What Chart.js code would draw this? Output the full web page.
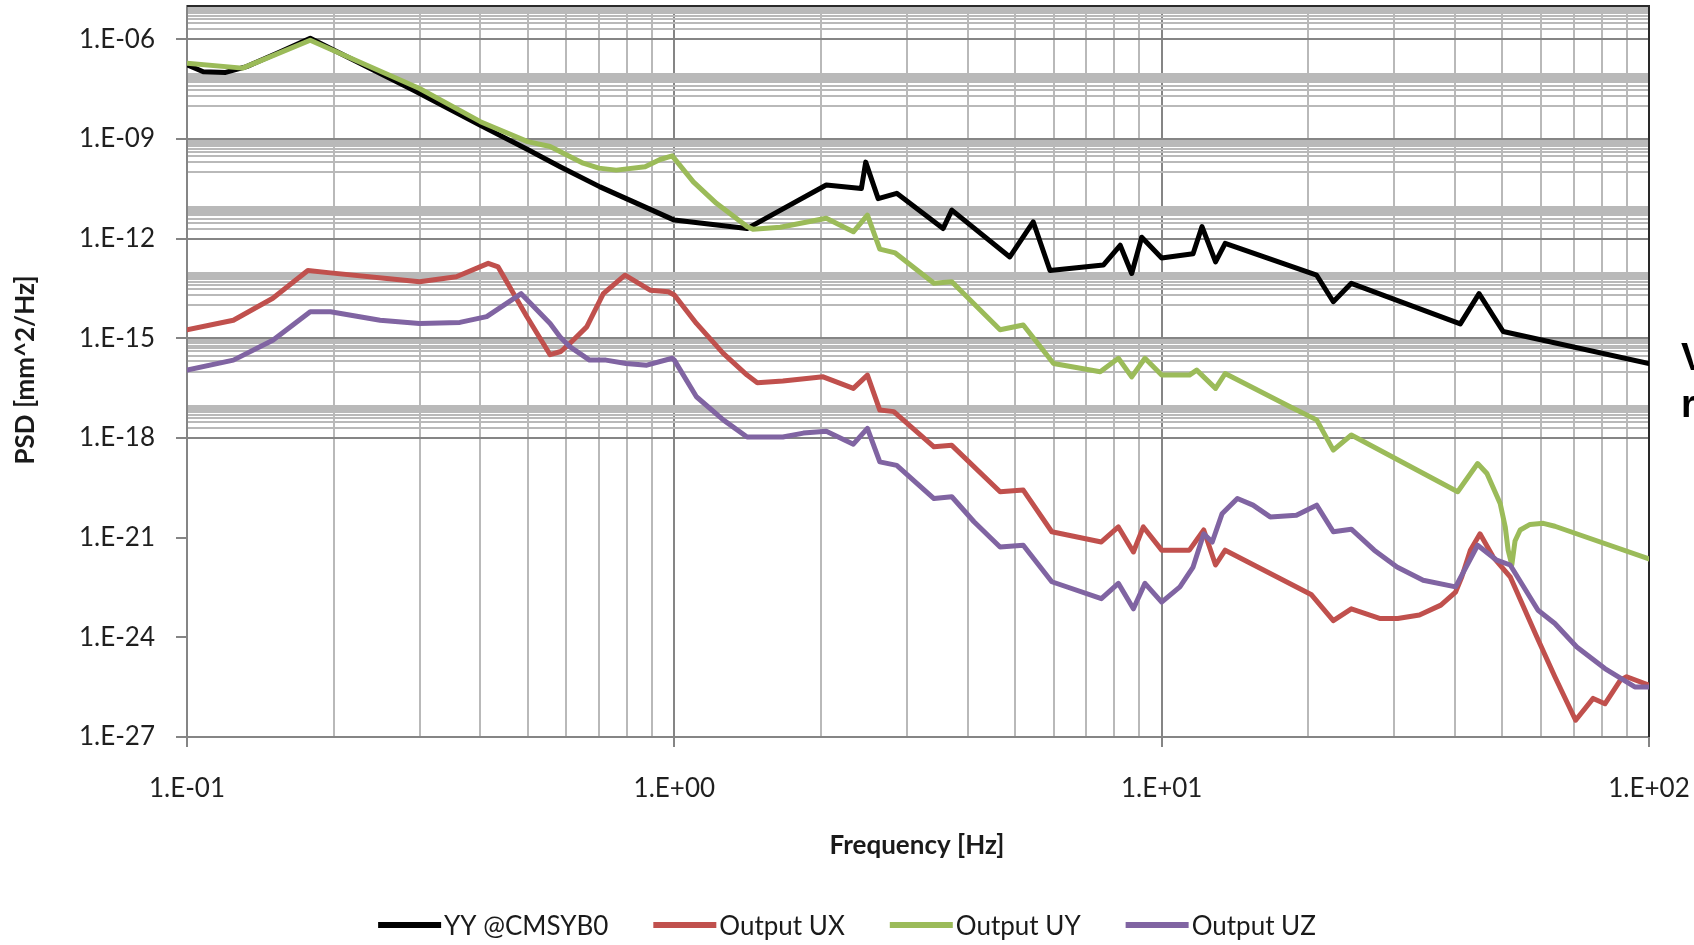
<!DOCTYPE html>
<html>
<head>
<meta charset="utf-8">
<title>PSD</title>
<script src="https://cdn.jsdelivr.net/npm/chart.js@4.4.1/dist/chart.umd.min.js"></script>
<style>
  html, body { margin: 0; padding: 0; background: #ffffff; }
  #wrap { width: 1694px; height: 945px; }
</style>
</head>
<body>
<div id="wrap"><canvas id="c" width="1694" height="945"></canvas></div>
<script>
// ---- series data: frequency [Hz] and PSD [mm^2/Hz] ----
const seriesLabels = ['YY @CMSYB0', 'Output UX', 'Output UY', 'Output UZ'];
const seriesColors = ['#000000', '#C0504D', '#9BBB59', '#8064A2'];

const yyFreq = [0.1, 0.108, 0.12, 0.1325, 0.153, 0.179, 0.291, 0.399, 0.5, 0.583, 0.704,
  1.0, 1.41, 2.05, 2.42, 2.47, 2.62, 2.86, 3.56, 3.71, 4.88, 5.45, 5.9, 7.59, 8.22, 8.68,
  9.1, 10, 11.6, 12.1, 12.9, 13.5, 20.8, 22.5, 24.5, 41.0, 44.8, 50.2, 100];
const yyPsd = [1.7e-7, 1.05e-7, 1.0e-7, 1.5e-7, 3.8e-7, 1.07e-6, 2.95e-8, 2.6e-9, 4.8e-10, 1.45e-10, 3.6e-11,
  3.6e-12, 2.0e-12, 4.1e-11, 3.2e-11, 2.0e-10, 1.6e-11, 2.3e-11, 2.0e-12, 7.2e-12, 2.8e-13, 3.2e-12, 1.1e-13, 1.6e-13, 6.3e-13, 8.9e-14,
  1.1e-12, 2.6e-13, 3.5e-13, 2.3e-12, 2.0e-13, 7.2e-13, 7.9e-14, 1.26e-14, 4.5e-14, 2.7e-15, 2.2e-14, 1.6e-15, 1.74e-16];

const uxFreq = [0.1, 0.1245, 0.15, 0.177, 0.197, 0.257, 0.3, 0.357, 0.415, 0.435,
  0.498, 0.556, 0.585, 0.611, 0.661, 0.715, 0.792, 0.892, 0.972, 1.0,
  1.11, 1.26, 1.41, 1.48, 1.67, 2.02, 2.33, 2.49, 2.64, 2.82,
  3.41, 3.71, 4.66, 5.2, 5.95, 7.52, 8.15, 8.75, 9.17, 10,
  11.4, 12.2, 12.9, 13.5, 20.3, 22.5, 24.5, 28, 30.5, 33.8,
  37.4, 40.1, 41.3, 43, 45, 47.9, 51.9, 58.9, 64.1, 70.7,
  76.8, 81.2, 87.3, 90, 100];
const uxPsd = [1.8e-15, 3.5e-15, 1.6e-14, 1.1e-13, 9.3e-14, 6.3e-14, 5.0e-14, 7.1e-14, 1.8e-13, 1.4e-13,
  4.5e-15, 3.2e-16, 4.0e-16, 7.1e-16, 2.2e-15, 2.2e-14, 7.9e-14, 2.8e-14, 2.5e-14, 2.0e-14,
  2.8e-15, 3.5e-16, 7.8e-17, 4.6e-17, 5.2e-17, 6.9e-17, 3.1e-17, 7.8e-17, 6.9e-18, 6.2e-18,
  5.4e-19, 6.0e-19, 2.4e-20, 2.7e-20, 1.5e-21, 7.4e-22, 2.1e-21, 3.7e-22, 2.1e-21, 4.2e-22,
  4.2e-22, 1.7e-21, 1.5e-22, 4.2e-22, 1.9e-23, 3.2e-24, 7.2e-24, 3.7e-24, 3.7e-24, 4.7e-24,
  9.3e-24, 2.3e-23, 6.6e-23, 4.2e-22, 1.3e-21, 2.6e-22, 6.6e-23, 1.0e-24, 6.5e-26, 3.2e-27,
  1.45e-26, 1.0e-26, 5.1e-26, 6.5e-26, 3.6e-26];

const uyFreq = [0.1, 0.13, 0.143, 0.179, 0.3, 0.4, 0.5, 0.556, 0.65, 0.70,
  0.76, 0.871, 0.935, 0.99, 1.094, 1.22, 1.41, 1.45, 1.65, 2.05,
  2.33, 2.49, 2.64, 2.84, 3.41, 3.71, 4.66, 5.2, 6.0, 7.48,
  8.15, 8.68, 9.24, 10, 11.4, 11.8, 12.9, 13.5, 18.3, 20.8,
  22.5, 24.5, 40.5, 44.5, 46.5, 49.5, 50.7, 51.4, 52.3, 53.1,
  54.4, 57.0, 60.7, 64.1, 100];
const uyPsd = [1.9e-7, 1.35e-7, 2.4e-7, 9.3e-7, 3.3e-8, 3.3e-9, 8.3e-10, 5.9e-10, 1.86e-10, 1.32e-10,
  1.15e-10, 1.45e-10, 2.4e-10, 3.1e-10, 5.1e-11, 1.15e-11, 2.3e-12, 1.9e-12, 2.2e-12, 4.1e-12,
  1.6e-12, 5.1e-12, 4.8e-13, 3.7e-13, 4.5e-14, 5.0e-14, 1.8e-15, 2.5e-15, 1.74e-16, 9.8e-17,
  2.5e-16, 6.9e-17, 2.5e-16, 7.8e-17, 7.8e-17, 1.1e-16, 3.1e-17, 8.7e-17, 8.9e-18, 3.5e-18,
  4.3e-19, 1.23e-18, 2.4e-20, 1.7e-19, 8.5e-20, 1.07e-20, 2.1e-21, 4.2e-22, 1.5e-22, 7.9e-22,
  1.7e-21, 2.5e-21, 2.7e-21, 2.2e-21, 2.3e-22];

const uzFreq = [0.1, 0.1245, 0.15, 0.179, 0.197, 0.249, 0.3, 0.363, 0.412, 0.485,
  0.556, 0.583, 0.611, 0.67, 0.724, 0.796, 0.878, 0.99, 1.0, 1.11,
  1.26, 1.41, 1.67, 1.84, 2.05, 2.33, 2.49, 2.64, 2.86, 3.41,
  3.71, 4.12, 4.66, 5.2, 5.95, 7.52, 8.15, 8.75, 9.24, 10,
  10.9, 11.6, 12.2, 12.7, 13.3, 14.3, 15.4, 16.7, 18.9, 20.8,
  22.5, 24.5, 27.3, 30.4, 34.4, 40.1, 44.5, 48.7, 51.9, 59.2,
  64.1, 71.1, 81.2, 93.5, 100];
const uzPsd = [1.1e-16, 2.2e-16, 8.7e-16, 6.3e-15, 6.3e-15, 3.5e-15, 2.8e-15, 3.0e-15, 4.5e-15, 2.2e-14,
  2.8e-15, 1.1e-15, 5.5e-16, 2.2e-16, 2.2e-16, 1.74e-16, 1.55e-16, 2.5e-16, 2.2e-16, 1.74e-17,
  3.5e-18, 1.07e-18, 1.07e-18, 1.4e-18, 1.6e-18, 6.5e-19, 1.95e-18, 1.9e-19, 1.5e-19, 1.5e-20,
  1.7e-20, 3.0e-21, 5.2e-22, 5.9e-22, 4.7e-23, 1.45e-23, 4.2e-23, 7.2e-24, 4.2e-23, 1.15e-23,
  3.3e-23, 1.3e-22, 1.3e-21, 7.4e-22, 5.2e-21, 1.5e-20, 9.5e-21, 4.2e-21, 4.7e-21, 9.5e-21,
  1.5e-21, 1.8e-21, 4.2e-22, 1.3e-22, 5.2e-23, 3.3e-23, 5.9e-22, 2.1e-22, 1.5e-22, 6.5e-24,
  2.6e-24, 5.1e-25, 1.15e-25, 3.2e-26, 3.2e-26];

// ---- axis ticks ----
const xTickValues = [0.1, 1, 10, 100];
const xTickLabels = ['1.E-01', '1.E+00', '1.E+01', '1.E+02'];
const yTickValues = [1e-27, 1e-24, 1e-21, 1e-18, 1e-15, 1e-12, 1e-9, 1e-6];
const yTickLabels = ['1.E-27', '1.E-24', '1.E-21', '1.E-18', '1.E-15', '1.E-12', '1.E-09', '1.E-06'];
const xMinorDecades = [-1, 0, 1];
const yMinorDecades = [-18, -16, -14, -12, -10, -8, -6];

const FONT = 'Lato, "Open Sans", sans-serif';
const MAJOR = '#858585';
const MINOR = '#b9b9b9';
const CLEAR = 'rgba(0,0,0,0)';

const near = (a, b) => Math.abs(Math.log10(a) - Math.log10(b)) < 1e-6;
const indexIn = (list, v) => list.findIndex(t => near(t, v));

function tickSet(majors, decades, extra) {
  const map = new Map();
  const add = v => map.set(v.toExponential(4), v);
  majors.forEach(add);
  decades.forEach(e => { for (let k = 1; k <= 9; k++) add(Number(k + 'e' + e)); });
  extra.forEach(add);
  return [...map.values()].sort((a, b) => a - b).map(v => ({ value: v }));
}

// keep the plot frame fixed: no extra room reserved for overhanging labels
function fixBox(s, size) {
  if (s.isHorizontal()) s.height = size; else s.width = size;
  s.paddingTop = 0; s.paddingBottom = 0; s.paddingLeft = 0; s.paddingRight = 0;
}

const pairs = (fx, fy) => fx.map((f, i) => ({ x: f, y: fy[i] }));
const allFreq = [yyFreq, uxFreq, uyFreq, uzFreq];
const allPsd = [yyPsd, uxPsd, uyPsd, uzPsd];
const drawOrder = [4, 3, 2, 1];

const datasets = seriesLabels.map((label, i) => ({
  label,
  data: pairs(allFreq[i], allPsd[i]),
  borderColor: seriesColors[i],
  backgroundColor: seriesColors[i],
  borderWidth: 5,
  pointRadius: 0,
  pointHoverRadius: 0,
  tension: 0,
  borderJoinStyle: 'round',
  borderCapStyle: 'round',
  fill: false,
  order: drawOrder[i]
}));

// frame, axis titles and legend
const decorations = {
  id: 'decorations',
  beforeDatasetsDraw(chart) {
    const { ctx, chartArea: a } = chart;
    ctx.save();
    ctx.strokeStyle = '#2a2a2a';
    ctx.lineWidth = 2;
    ctx.beginPath();
    ctx.moveTo(a.left, a.top);
    ctx.lineTo(a.right, a.top);
    ctx.lineTo(a.right, a.bottom);
    ctx.stroke();
    ctx.restore();
  },
  afterDraw(chart) {
    const { ctx } = chart;
    ctx.save();
    ctx.fillStyle = '#1a1a1a';
    ctx.textAlign = 'center';
    ctx.textBaseline = 'middle';

    // x axis title
    ctx.font = 'bold 26px ' + FONT;
    ctx.fillText('Frequency [Hz]', 917, 846);

    // y axis title
    ctx.save();
    ctx.translate(26, 370);
    ctx.rotate(-Math.PI / 2);
    ctx.fillText('PSD [mm^2/Hz]', 0, 0);
    ctx.restore();

    // legend
    ctx.font = '26px ' + FONT;
    const LINE = 63, GAP = 3, SPACE = 45, LY = 925;
    const items = chart.data.datasets.map(d => ({ label: d.label, color: d.borderColor, w: ctx.measureText(d.label).width }));
    const total = items.reduce((s, it) => s + LINE + GAP + it.w, 0) + SPACE * (items.length - 1);
    let x = chart.width / 2 - total / 2;
    ctx.textAlign = 'left';
    items.forEach(it => {
      ctx.strokeStyle = it.color;
      ctx.lineWidth = 6;
      ctx.lineCap = 'butt';
      ctx.beginPath();
      ctx.moveTo(x, LY);
      ctx.lineTo(x + LINE, LY);
      ctx.stroke();
      ctx.fillStyle = '#1a1a1a';
      ctx.fillText(it.label, x + LINE + GAP, LY + 2);
      x += LINE + GAP + it.w + SPACE;
    });

    // side note text running off the right edge
    ctx.fillStyle = '#000000';
    ctx.font = 'bold 38px "Liberation Sans", Arial, sans-serif';
    ctx.textBaseline = 'alphabetic';
    ctx.fillText('V', 1681, 370);
    ctx.fillText('r', 1681, 417);
    ctx.restore();
  }
};

new Chart(document.getElementById('c'), {
  type: 'line',
  data: { datasets },
  plugins: [decorations],
  options: {
    responsive: false,
    animation: false,
    devicePixelRatio: 1,
    events: [],
    layout: { padding: { top: 6, right: 45, left: 0, bottom: 0 } },
    plugins: { legend: { display: false }, tooltip: { enabled: false }, title: { display: false } },
    scales: {
      x: {
        type: 'logarithmic',
        position: 'bottom',
        min: 0.1,
        max: 100,
        afterBuildTicks: s => { s.ticks = tickSet(xTickValues, xMinorDecades, []); },
        afterFit: s => fixBox(s, 208),
        border: { display: true, color: MAJOR, width: 2 },
        grid: {
          drawTicks: true,
          tickLength: 10,
          tickWidth: 2,
          color: c => {
            const v = c.tick && c.tick.value;
            if (v === undefined) return CLEAR;
            if (near(v, 0.1) || near(v, 100)) return CLEAR;
            return indexIn(xTickValues, v) >= 0 ? MAJOR : MINOR;
          },
          lineWidth: 2,
          tickColor: c => {
            const v = c.tick && c.tick.value;
            return v !== undefined && indexIn(xTickValues, v) >= 0 ? MAJOR : CLEAR;
          }
        },
        ticks: {
          autoSkip: false,
          maxRotation: 0,
          minRotation: 0,
          padding: 26,
          color: '#1f1f1f',
          font: { family: FONT, size: 26 },
          callback: v => { const i = indexIn(xTickValues, v); return i >= 0 ? xTickLabels[i] : ''; }
        }
      },
      y: {
        type: 'logarithmic',
        position: 'left',
        min: 1e-27,
        max: 1e-5,
        afterBuildTicks: s => { s.ticks = tickSet(yTickValues, yMinorDecades, [1e-5]); },
        afterFit: s => fixBox(s, 187),
        border: { display: true, color: MAJOR, width: 2 },
        grid: {
          drawTicks: true,
          tickLength: 11,
          tickWidth: 2,
          color: c => {
            const v = c.tick && c.tick.value;
            if (v === undefined || near(v, 1e-5)) return CLEAR;
            if (indexIn(yTickValues, v) >= 0) return v >= 1e-18 ? MAJOR : CLEAR;
            return MINOR;
          },
          lineWidth: c => {
            const v = c.tick && c.tick.value;
            return v !== undefined && indexIn(yTickValues, v) >= 0 ? 2 : 2;
          },
          tickColor: c => {
            const v = c.tick && c.tick.value;
            return v !== undefined && indexIn(yTickValues, v) >= 0 ? MAJOR : CLEAR;
          }
        },
        ticks: {
          autoSkip: false,
          padding: 21,
          color: '#1f1f1f',
          font: { family: FONT, size: 26 },
          callback: v => { const i = indexIn(yTickValues, v); return i >= 0 ? yTickLabels[i] : ''; }
        }
      }
    }
  }
});
</script>
</body>
</html>
